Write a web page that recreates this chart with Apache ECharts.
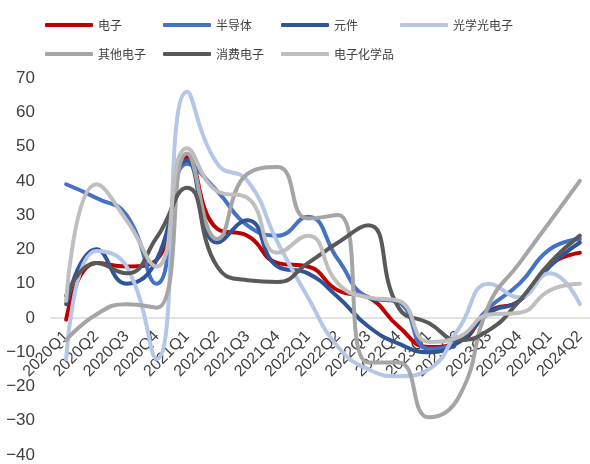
<!DOCTYPE html>
<html>
<head>
<meta charset="utf-8">
<script src="https://cdn.jsdelivr.net/npm/echarts@6/dist/echarts.min.js"></script>
<style>
  html, body { margin: 0; padding: 0; background: #fff; }
  #chart { width: 590px; height: 464px; }
</style>
</head>
<body>
<div id="chart"></div>
<script>
// Quarterly categories
const quarters = ['2020Q1','2020Q2','2020Q3','2020Q4','2021Q1','2021Q2','2021Q3','2021Q4',
                  '2022Q1','2022Q2','2022Q3','2022Q4','2023Q1','2023Q2','2023Q3','2023Q4',
                  '2024Q1','2024Q2'];

// Series values (%)
const dianzi      = [-0.5, 16, 15, 17, 47, 26, 24, 16, 15, 8, 6, -2.5, -8.5, -7, 2, 5, 15.5, 19];
const bandaoti    = [39, 35, 30, 10, 45, 37, 27, 24, 29.5, 17, 6, 4.5, -9, -6.5, 3, 10, 20, 23];
const yuanjian    = [4, 20, 10, 17, 46, 22, 28.5, 15, 13, 6, -2.5, -7.5, -10, -7, 1.5, 5, 15, 22];
const guangxue    = [-12, 19.5, 15, -12, 66, 45, 40, 22, 6, -8.5, -15, -17, -15, -3, 10, 6, 13, 4];
const qita        = [-6.5, 1, 4, 3, 48, 23, 42, 44, 29, 30, -13, -13, -29, -23, 4, 16, 28, 40];
const xiaofei     = [6.5, 16, 13, 23.5, 38, 15, 11, 10.5, 16, 22, 27, 3, -1.5, -6.5, -3.5, 5, 16, 24];
const huaxuepin   = [5, 39, 28.5, 15, 49.5, 37, 35, 19, 24, 10, 6, 5, -7, -5.5, 1, 1.5, 8, 10];

// Axis ticks
const yTicks = { min: -40, max: 70, step: 10 };

const seriesDefs = [
  { name: '电子',       data: dianzi,    color: '#c00000' },
  { name: '半导体',     data: bandaoti,  color: '#4472c4' },
  { name: '元件',       data: yuanjian,  color: '#2f5597' },
  { name: '光学光电子', data: guangxue,  color: '#b4c7e7' },
  { name: '其他电子',   data: qita,      color: '#a5a5a5' },
  { name: '消费电子',   data: xiaofei,   color: '#595959' },
  { name: '电子化学品', data: huaxuepin, color: '#bfbfbf' }
];

// Plot area
const W = 590, H = 464;
const grid = { left: 51, right: -5, top: 78, bottom: 9 };
const plotH = H - grid.top - grid.bottom;
// Category axis sits on the zero line
const zeroOffset = -plotH * (0 - yTicks.min) / (yTicks.max - yTicks.min);

// Legend laid out on a 4-column grid, two rows
const legendCols = [45, 163, 281, 400];
const legendRows = [19, 48];
const legends = seriesDefs.map((s, i) => ({
  data: [s.name],
  left: legendCols[i % 4],
  top: legendRows[Math.floor(i / 4)],
  icon: 'roundRect',
  itemWidth: 48,
  itemHeight: 4,
  padding: 0,
  textStyle: { color: '#404040', fontSize: 12, fontFamily: 'Noto Sans CJK SC' }
}));

const chart = echarts.init(document.getElementById('chart'), null, { renderer: 'canvas' });
chart.setOption({
  animation: false,
  backgroundColor: '#ffffff',
  legend: legends,
  grid: Object.assign({ containLabel: false, outerBoundsMode: 'none' }, grid),
  xAxis: {
    type: 'category',
    data: quarters,
    boundaryGap: true,
    offset: zeroOffset,
    axisLine: { onZero: true, lineStyle: { color: '#d9d9d9', width: 1.5 } },
    axisTick: { show: false },
    axisLabel: {
      interval: 0,
      rotate: 45,
      margin: 16,
      color: '#404040',
      fontSize: 16,
      fontFamily: 'Liberation Sans'
    },
    splitLine: { show: false }
  },
  yAxis: {
    type: 'value',
    min: yTicks.min,
    max: yTicks.max,
    interval: yTicks.step,
    axisLine: { show: false },
    axisTick: { show: false },
    splitLine: { show: false },
    axisLabel: {
      margin: 16,
      color: '#404040',
      fontSize: 17,
      fontFamily: 'Liberation Sans',
      formatter: v => String(v).replace('-', '\u2212')
    }
  },
  series: seriesDefs.map(s => ({
    name: s.name,
    type: 'line',
    data: s.data,
    smooth: true,
    showSymbol: false,
    symbol: 'none',
    color: s.color,
    lineStyle: { color: s.color, width: 4, cap: 'round' }
  }))
});
</script>
</body>
</html>
